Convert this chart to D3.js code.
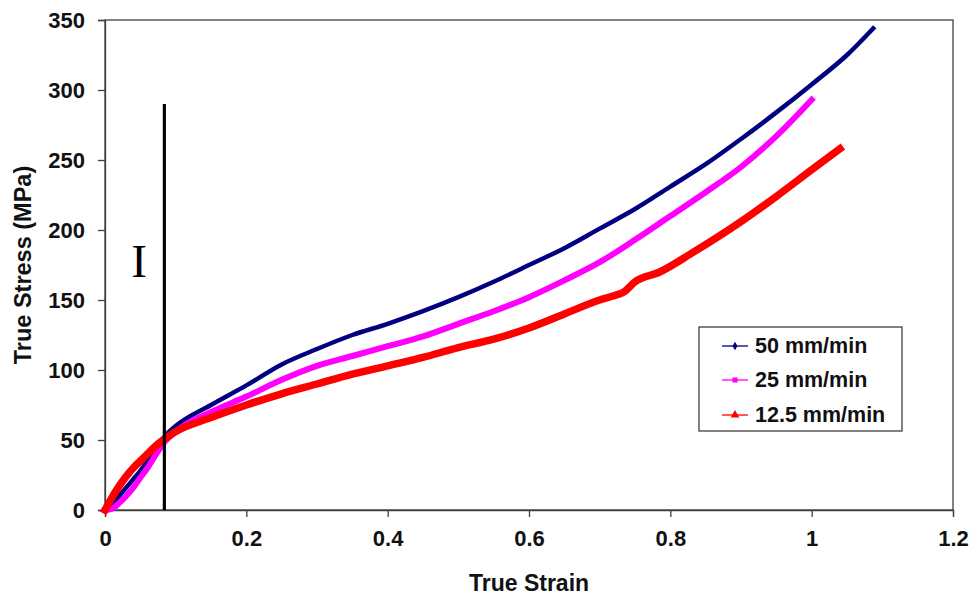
<!DOCTYPE html>
<html>
<head>
<meta charset="utf-8">
<script src="https://cdn.jsdelivr.net/npm/d3@7"></script>
<style>
  html, body { margin: 0; padding: 0; background: #fff; }
  svg { display: block; }
</style>
</head>
<body>
<svg id="chart" width="972" height="599"></svg>
<script>
// ---------- data ----------
const strainTicks = [0, 0.2, 0.4, 0.6, 0.8, 1, 1.2];
const stressTicks = [0, 50, 100, 150, 200, 250, 300, 350];

const seriesNames = ["50 mm/min", "25 mm/min", "12.5 mm/min"];
const seriesColors = ["#000080", "#FF00FF", "#FF0000"];
const seriesSymbols = ["diamond", "square", "triangle"];

const strain50 = [0, 0.01, 0.02, 0.03, 0.04, 0.05, 0.06, 0.07, 0.085, 0.1, 0.15, 0.2, 0.25, 0.3, 0.35, 0.4, 0.45, 0.5, 0.55, 0.6, 0.65, 0.7, 0.75, 0.8, 0.85, 0.9, 0.95, 1.0, 1.05, 1.087];
const stress50 = [0, 4, 10, 16, 22, 28, 35, 42, 53, 60, 75, 89, 104, 115, 125, 133, 142, 152, 163, 175, 187, 201, 215, 231, 247, 265, 284, 304, 325, 344];

const strain25 = [0, 0.01, 0.02, 0.03, 0.04, 0.05, 0.06, 0.07, 0.085, 0.1, 0.15, 0.2, 0.25, 0.3, 0.35, 0.4, 0.45, 0.5, 0.55, 0.6, 0.65, 0.7, 0.75, 0.8, 0.85, 0.9, 0.95, 1.0];
const stress25 = [0, 1, 5, 10, 16, 23, 30, 38, 49, 56, 70, 81, 93, 103, 110, 117, 124, 133, 142, 152, 164, 177, 193, 210, 227, 245, 267, 293];

const strain125 = [0, 0.01, 0.02, 0.03, 0.04, 0.05, 0.06, 0.07, 0.085, 0.1, 0.15, 0.2, 0.25, 0.3, 0.35, 0.4, 0.45, 0.5, 0.55, 0.6, 0.65, 0.7, 0.72, 0.735, 0.75, 0.785, 0.832, 0.9, 0.95, 1.0, 1.04];
const stress125 = [0, 9, 17, 24, 30, 35, 40, 45, 51, 56, 66, 75, 83, 90, 97, 103, 109, 116, 122, 130, 140, 150, 153, 156, 163, 170, 184, 206, 224, 243, 258];

const regionLineStrain = 0.084;
const regionLineTop = 290;
const regionLabel = "I";

const xTitle = "True Strain";
const yTitle = "True Stress (MPa)";

// ---------- layout ----------
const sans = '"Liberation Sans", Arial, sans-serif';
const svg = d3.select("#chart");
const m = { left: 105, right: 953, top: 20, bottom: 510 };

const x = d3.scaleLinear().domain([0, 1.2]).range([m.left, m.right]);
const y = d3.scaleLinear().domain([0, 350]).range([m.bottom, m.top]);

const axisColor = "#404040";

// frame
svg.append("rect")
  .attr("x", m.left).attr("y", m.top)
  .attr("width", m.right - m.left).attr("height", m.bottom - m.top)
  .attr("fill", "none").attr("stroke", axisColor).attr("stroke-width", 1.3);

// axes
const xAxis = svg.append("g")
  .attr("transform", `translate(0,${m.bottom})`)
  .call(d3.axisBottom(x).tickValues(strainTicks).tickSize(7).tickPadding(13)
        .tickFormat(d => String(d)));
const yAxis = svg.append("g")
  .attr("transform", `translate(${m.left},0)`)
  .call(d3.axisLeft(y).tickValues(stressTicks).tickSize(7).tickPadding(13));

[xAxis, yAxis].forEach(g => {
  g.select(".domain").attr("stroke", axisColor).attr("stroke-width", 1.3);
  g.selectAll(".tick line").attr("stroke", axisColor).attr("stroke-width", 1.3);
  g.selectAll(".tick text")
    .style("font-family", sans)
    .style("font-size", "22px").style("font-weight", "bold").attr("fill", "#111");
});
yAxis.selectAll(".tick text").attr("dy", "0.36em");

// axis titles
svg.append("text")
  .attr("x", 529).attr("y", 591)
  .attr("text-anchor", "middle")
  .style("font-family", sans)
  .style("font-size", "23px").style("font-weight", "bold").attr("fill", "#111")
  .text(xTitle);

svg.append("text")
  .attr("transform", `translate(31,265) rotate(-90)`)
  .attr("text-anchor", "middle")
  .style("font-family", sans)
  .style("font-size", "23.5px").style("font-weight", "bold").attr("fill", "#111")
  .text(yTitle);

// series
const seriesData = [
  strain50.map((s, i) => [s, stress50[i]]),
  strain25.map((s, i) => [s, stress25[i]]),
  strain125.map((s, i) => [s, stress125[i]])
];
const seriesWidths = [4.5, 6, 7.5];

const line = d3.line()
  .x(d => x(d[0])).y(d => y(d[1]))
  .curve(d3.curveMonotoneX);

[0, 1, 2].forEach(i => {
  svg.append("path")
    .datum(seriesData[i])
    .attr("d", line)
    .attr("fill", "none")
    .attr("stroke", seriesColors[i])
    .attr("stroke-width", seriesWidths[i])
    .attr("stroke-linejoin", "round")
    .attr("stroke-linecap", "square");
});

// region line
svg.append("line")
  .attr("x1", x(regionLineStrain)).attr("x2", x(regionLineStrain))
  .attr("y1", y(0)).attr("y2", y(regionLineTop))
  .attr("stroke", "#000").attr("stroke-width", 3.2);

svg.append("text")
  .attr("x", 139).attr("y", 277)
  .attr("text-anchor", "middle")
  .style("font-family", '"Liberation Serif", "Times New Roman", serif')
  .style("font-size", "47px")
  .attr("fill", "#000")
  .text(regionLabel);

// legend
const lg = svg.append("g");
lg.append("rect")
  .attr("x", 699).attr("y", 327).attr("width", 203).attr("height", 104)
  .attr("fill", "#fff").attr("stroke", axisColor).attr("stroke-width", 1.3);

const rowY = [346, 380, 415];
const symbolTypes = { diamond: d3.symbolDiamond, square: d3.symbolSquare, triangle: d3.symbolTriangle };
const symbolSizes = { diamond: 22, square: 26, triangle: 32 };
seriesNames.forEach((name, i) => {
  const cy = rowY[i];
  lg.append("line")
    .attr("x1", 722).attr("x2", 748).attr("y1", cy).attr("y2", cy)
    .attr("stroke", seriesColors[i]).attr("stroke-width", 1.3);
  lg.append("path")
    .attr("transform", `translate(735,${cy})`)
    .attr("d", d3.symbol().type(symbolTypes[seriesSymbols[i]]).size(symbolSizes[seriesSymbols[i]])())
    .attr("fill", seriesColors[i]);
  lg.append("text")
    .attr("x", 755).attr("y", cy + 7)
    .style("font-family", sans)
    .style("font-size", "21.5px").style("font-weight", "bold").attr("fill", "#111")
    .text(name);
});
</script>
</body>
</html>
